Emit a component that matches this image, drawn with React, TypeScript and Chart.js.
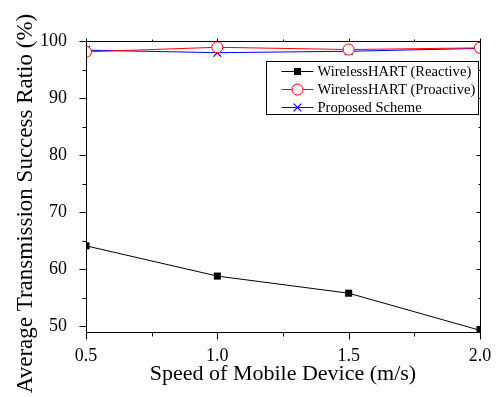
import React, { useEffect, useRef } from 'react';
import { Chart, registerables } from 'chart.js';

Chart.register(...registerables);

const speeds = [0.5, 1.0, 1.5, 2.0];
const xTickLabels = ['0.5', '1.0', '1.5', '2.0'];
const xMinorTicks = [0.75, 1.25, 1.75];
const yTickValues = [50, 60, 70, 80, 90, 100];
const yMinorTicks = [55, 65, 75, 85, 95];

const reactive = [64.1, 58.8, 55.8, 49.3];
const proactive = [98.1, 98.9, 98.5, 98.8];
const proposed = [98.4, 97.95, 98.2, 98.7];

const seriesNames = ['WirelessHART (Reactive)', 'WirelessHART (Proactive)', 'Proposed Scheme'];
const xTitle = 'Speed of Mobile Device (m/s)';
const yTitle = 'Average Transmission Success Ratio (%)';

const FONT = '"Liberation Serif", "Times New Roman", serif';

function drawMarker(ctx: CanvasRenderingContext2D, style: string, x: number, y: number, r: number, color: string) {
  ctx.save();
  ctx.strokeStyle = color;
  ctx.fillStyle = color;
  ctx.lineWidth = 1;
  if (style === 'rect') {
    const s = Math.SQRT1_2 * r;
    ctx.fillRect(x - s, y - s, 2 * s, 2 * s);
  } else if (style === 'circle') {
    ctx.beginPath();
    ctx.arc(x, y, r, 0, Math.PI * 2);
    ctx.fillStyle = '#fff';
    ctx.fill();
    ctx.stroke();
  } else if (style === 'crossRot') {
    const s = Math.SQRT1_2 * r;
    ctx.lineWidth = 1.3;
    ctx.beginPath();
    ctx.moveTo(x - s, y - s);
    ctx.lineTo(x + s, y + s);
    ctx.moveTo(x - s, y + s);
    ctx.lineTo(x + s, y - s);
    ctx.stroke();
  }
  ctx.restore();
}

const framePlugin = {
  id: 'frameAndLegend',
  afterDatasetsDraw(chart: any) {
    const { ctx, chartArea } = chart;
    const { left, right, top, bottom } = chartArea;
    const xs = chart.scales.x;
    const ys = chart.scales.y;
    const L = Math.round(left) + 0.5;
    const R = Math.round(right) + 0.5;
    const T = Math.round(top) + 0.5;
    const B = Math.round(bottom) + 0.5;
    ctx.save();
    ctx.strokeStyle = '#000';
    ctx.lineWidth = 1;
    ctx.beginPath();
    ctx.moveTo(L, T);
    ctx.lineTo(R, T);
    ctx.lineTo(R, B);
    ctx.lineTo(L, B);
    ctx.closePath();
    yTickValues.forEach((v) => {
      const p = Math.round(ys.getPixelForValue(v)) + 0.5;
      ctx.moveTo(L - 7, p); ctx.lineTo(L, p);
      ctx.moveTo(R - 4, p); ctx.lineTo(R, p);
    });
    yMinorTicks.forEach((v) => {
      const p = Math.round(ys.getPixelForValue(v)) + 0.5;
      ctx.moveTo(L - 4, p); ctx.lineTo(L, p);
      ctx.moveTo(R - 2, p); ctx.lineTo(R, p);
    });
    speeds.forEach((v) => {
      const p = Math.round(xs.getPixelForValue(v)) + 0.5;
      ctx.moveTo(p, B); ctx.lineTo(p, B + 7);
      ctx.moveTo(p, T); ctx.lineTo(p, T - 3);
    });
    xMinorTicks.forEach((v) => {
      const p = Math.round(xs.getPixelForValue(v)) + 0.5;
      ctx.moveTo(p, B); ctx.lineTo(p, B + 4);
      ctx.moveTo(p, T); ctx.lineTo(p, T - 2);
    });
    ctx.stroke();

    // y title
    ctx.save();
    ctx.translate(26, 203.5);
    ctx.rotate(-Math.PI / 2);
    ctx.font = `23px ${FONT}`;
    ctx.fillStyle = '#000';
    ctx.textAlign = 'center';
    ctx.textBaseline = 'middle';
    ctx.fillText(yTitle, 0, 0);
    ctx.restore();

    // legend
    const bx = Math.round(right) - 214 + 0.5;
    const by = Math.round(top) + 20 + 0.5;
    const bw = 212;
    const bh = 53;
    ctx.fillStyle = '#fff';
    ctx.fillRect(bx, by, bw, bh);
    ctx.strokeStyle = '#000';
    ctx.lineWidth = 1;
    ctx.strokeRect(bx, by, bw, bh);
    ctx.font = `14.6px ${FONT}`;
    ctx.textAlign = 'left';
    ctx.textBaseline = 'middle';
    chart.data.datasets.forEach((ds: any, i: number) => {
      const cy = Math.round(by + 9 + i * 18) + 0.5;
      ctx.strokeStyle = ds.borderColor;
      ctx.lineWidth = 1;
      ctx.beginPath();
      ctx.moveTo(bx + 15, cy);
      ctx.lineTo(bx + 47, cy);
      ctx.stroke();
      drawMarker(ctx, ds.pointStyle, bx + 31, cy, ds.pointRadius, ds.borderColor);
      ctx.fillStyle = '#000';
      ctx.fillText(ds.label, bx + 51, cy + 1);
    });
    ctx.restore();
  },
};

export default function App() {
  const ref = useRef<HTMLCanvasElement | null>(null);
  useEffect(() => {
    document.body.style.margin = '0';
    const canvas = ref.current;
    if (!canvas) return;
    const toPts = (arr: number[]) => speeds.map((s, i) => ({ x: s, y: arr[i] }));
    const chart = new Chart(canvas, {
      type: 'line',
      data: {
        datasets: [
          {
            label: seriesNames[0],
            data: toPts(reactive),
            borderColor: '#000000',
            backgroundColor: '#000000',
            borderWidth: 1,
            pointStyle: 'rect',
            pointRadius: 5,
            pointBorderWidth: 0,
          },
          {
            label: seriesNames[1],
            data: toPts(proactive),
            borderColor: '#ff0000',
            backgroundColor: '#ffffff',
            borderWidth: 1,
            pointStyle: 'circle',
            pointRadius: 5.5,
            pointBorderWidth: 1,
          },
          {
            label: seriesNames[2],
            data: toPts(proposed),
            borderColor: '#0000ff',
            backgroundColor: '#0000ff',
            borderWidth: 1,
            pointStyle: 'crossRot',
            pointRadius: 5.5,
            pointBorderWidth: 1.3,
          },
        ] as any,
      },
      options: {
        animation: false,
        responsive: false,
        devicePixelRatio: 1,
        layout: { padding: { top: 41, right: 17, left: 0, bottom: 0 } },
        plugins: { legend: { display: false }, tooltip: { enabled: false } },
        scales: {
          x: {
            type: 'linear',
            min: 0.5,
            max: 2.0,
            grid: { display: false },
            border: { display: false },
            afterBuildTicks: (axis: any) => {
              axis.ticks = speeds.map((v) => ({ value: v }));
            },
            afterFit: (axis: any) => {
              axis.height = 65;
            },
            ticks: {
              padding: 5,
              color: '#000',
              font: { family: FONT, size: 18 },
              maxRotation: 0,
              callback: (_v: any, i: number) => xTickLabels[i],
            },
            title: {
              display: true,
              text: xTitle,
              color: '#000',
              font: { family: FONT, size: 22 },
              padding: { top: 0, bottom: 10 },
            },
          },
          y: {
            type: 'linear',
            min: 49,
            max: 100,
            grid: { display: false },
            border: { display: false },
            afterBuildTicks: (axis: any) => {
              axis.ticks = yTickValues.map((v) => ({ value: v }));
            },
            afterFit: (axis: any) => {
              axis.width = 86;
            },
            ticks: {
              padding: 11,
              color: '#000',
              font: { family: FONT, size: 18 },
              callback: (v: any) => String(v),
            },
          },
        },
      },
      plugins: [framePlugin],
    });
    return () => chart.destroy();
  }, []);
  return (
    <div style={{ width: 497, height: 397, background: '#fff' }}>
      <canvas ref={ref} width={497} height={397} />
    </div>
  );
}
